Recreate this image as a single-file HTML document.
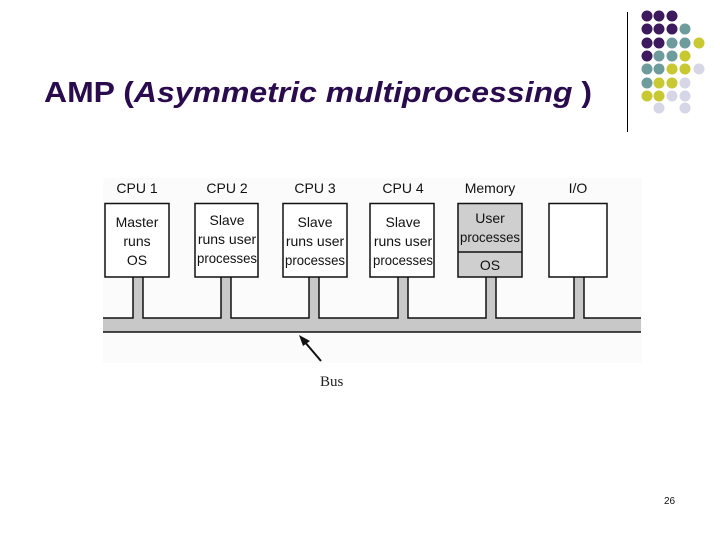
<!DOCTYPE html>
<html><head><meta charset="utf-8"><style>
html,body{margin:0;padding:0;background:#fff;}
body{width:720px;height:540px;overflow:hidden;position:relative;}
svg{position:absolute;left:0;top:0;}
</style></head><body>
<svg width="720" height="540" viewBox="0 0 720 540" xmlns="http://www.w3.org/2000/svg">
<text x="44" y="102" font-family="Liberation Sans, sans-serif" font-size="29" font-weight="bold" fill="#2a0c4e" textLength="548" lengthAdjust="spacingAndGlyphs">AMP (<tspan font-style="italic">Asymmetric multiprocessing</tspan> )</text>
<line x1="627.5" y1="12" x2="627.5" y2="132" stroke="#000" stroke-width="1"/>
<g>
<circle cx="647" cy="16" r="5.5" fill="#3d1a5e"/><circle cx="659" cy="16" r="5.5" fill="#3d1a5e"/><circle cx="672" cy="16" r="5.5" fill="#3d1a5e"/>
<circle cx="647" cy="29" r="5.5" fill="#3d1a5e"/><circle cx="659" cy="29" r="5.5" fill="#3d1a5e"/><circle cx="672" cy="29" r="5.5" fill="#3d1a5e"/><circle cx="685" cy="29" r="5.5" fill="#6e9c9c"/>
<circle cx="647" cy="43" r="5.5" fill="#3d1a5e"/><circle cx="659" cy="43" r="5.5" fill="#3d1a5e"/><circle cx="672" cy="43" r="5.5" fill="#6e9c9c"/><circle cx="685" cy="43" r="5.5" fill="#6e9c9c"/><circle cx="699" cy="43" r="5.5" fill="#c8c832"/>
<circle cx="647" cy="56" r="5.5" fill="#3d1a5e"/><circle cx="659" cy="56" r="5.5" fill="#6e9c9c"/><circle cx="672" cy="56" r="5.5" fill="#6e9c9c"/><circle cx="685" cy="56" r="5.5" fill="#c8c832"/>
<circle cx="647" cy="69" r="5.5" fill="#6e9c9c"/><circle cx="659" cy="69" r="5.5" fill="#6e9c9c"/><circle cx="672" cy="69" r="5.5" fill="#c8c832"/><circle cx="685" cy="69" r="5.5" fill="#c8c832"/><circle cx="699" cy="69" r="5.5" fill="#d6d6e6"/>
<circle cx="647" cy="83" r="5.5" fill="#6e9c9c"/><circle cx="659" cy="83" r="5.5" fill="#c8c832"/><circle cx="672" cy="83" r="5.5" fill="#c8c832"/><circle cx="685" cy="83" r="5.5" fill="#d6d6e6"/>
<circle cx="647" cy="96" r="5.5" fill="#c8c832"/><circle cx="659" cy="96" r="5.5" fill="#c8c832"/><circle cx="672" cy="96" r="5.5" fill="#d6d6e6"/><circle cx="685" cy="96" r="5.5" fill="#d6d6e6"/>
<circle cx="659" cy="108" r="5.5" fill="#d6d6e6"/><circle cx="685" cy="108" r="5.5" fill="#d6d6e6"/>
</g>
<rect x="103" y="178" width="539" height="185" fill="#fbfbfb"/>
<g font-family="Liberation Sans, sans-serif" font-size="14" text-anchor="middle" fill="#111">
<text x="137" y="193">CPU 1</text><text x="227" y="193">CPU 2</text><text x="315" y="193">CPU 3</text><text x="403" y="193">CPU 4</text><text x="490" y="193">Memory</text><text x="578" y="193">I/O</text>
</g>
<path d="M103,318 H133 V277 H143 V318 H221 V277 H231 V318 H309 V277 H319 V318 H398 V277 H408 V318 H486 V277 H496 V318 H574 V277 H584 V318 H641 V332 H103 Z" fill="#c8c8c8"/>
<path d="M103,318 H133 V277 M143,277 V318 H221 V277 M231,277 V318 H309 V277 M319,277 V318 H398 V277 M408,277 V318 H486 V277 M496,277 V318 H574 V277 M584,277 V318 H641 M103,332 H641" fill="none" stroke="#111" stroke-width="1.5"/>
<g stroke="#111" stroke-width="1.5">
<rect x="105" y="203.5" width="64" height="73.5" fill="#fff"/>
<rect x="195" y="203.5" width="63" height="73.5" fill="#fff"/>
<rect x="283" y="203.5" width="64" height="73.5" fill="#fff"/>
<rect x="370" y="203.5" width="64" height="73.5" fill="#fff"/>
<rect x="458" y="203.5" width="64" height="73.5" fill="#cfcfcf"/>
<line x1="458" y1="252" x2="522" y2="252"/>
<rect x="549" y="203.5" width="58" height="73.5" fill="#fff"/>
</g>
<g font-family="Liberation Sans, sans-serif" font-size="14" text-anchor="middle" fill="#111">
<text x="137" y="227">Master</text><text x="137" y="246">runs</text><text x="137" y="265">OS</text>
<text x="227" y="225">Slave</text><text x="227" y="244">runs user</text><text x="227" y="263" textLength="60" lengthAdjust="spacingAndGlyphs">processes</text>
<text x="315" y="227">Slave</text><text x="315" y="246">runs user</text><text x="315" y="265" textLength="60" lengthAdjust="spacingAndGlyphs">processes</text>
<text x="403" y="227">Slave</text><text x="403" y="246">runs user</text><text x="403" y="265" textLength="60" lengthAdjust="spacingAndGlyphs">processes</text>
<text x="490" y="223">User</text><text x="490" y="242" textLength="60" lengthAdjust="spacingAndGlyphs">processes</text><text x="490" y="270">OS</text>
</g>
<line x1="321" y1="361" x2="304" y2="341" stroke="#111" stroke-width="2"/>
<polygon points="299,335 310,341 303,346" fill="#111"/>
<text x="320" y="386" font-family="Liberation Serif, serif" font-size="15" fill="#222">Bus</text>
<text x="664" y="504" font-family="Liberation Sans, sans-serif" font-size="10" fill="#111">26</text>
</svg>
</body></html>
